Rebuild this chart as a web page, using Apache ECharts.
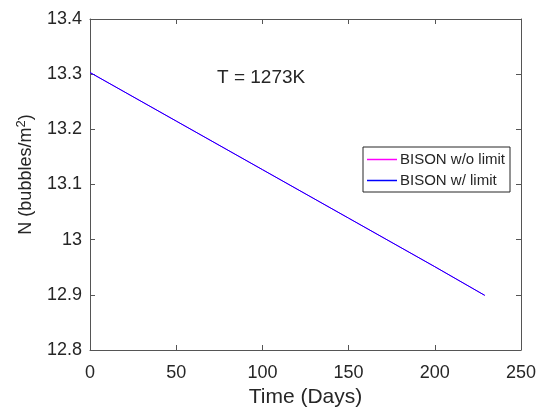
<!DOCTYPE html>
<html>
<head>
<meta charset="utf-8">
<script src="https://cdn.jsdelivr.net/npm/echarts@6/dist/echarts.min.js"></script>
<style>
  html, body { margin: 0; padding: 0; background: #fff; }
  #chart { width: 542px; height: 416px; }
</style>
</head>
<body>
<div id="chart"></div>
<script>
// Bubble number density over time at T = 1273K
const days = [0, 50, 100, 150, 200, 229];
const nWithoutLimit = [13.303, 13.215, 13.127, 13.039, 12.951, 12.899];
const nWithLimit = [13.303, 13.215, 13.127, 13.039, 12.951, 12.899];
const xTicks = [0, 50, 100, 150, 200, 250];
const yTicks = [12.8, 12.9, 13.0, 13.1, 13.2, 13.3, 13.4];
const seriesNames = ['BISON w/o limit', 'BISON w/ limit'];

const FONT = 'Liberation Sans, Arial, sans-serif';
const INK = '#262626';
const AXIS = '#555555';

const pairs = (xs, ys) => xs.map((x, i) => [x, ys[i]]);

const chart = echarts.init(document.getElementById('chart'), null, { renderer: 'canvas' });

const boxAxis = {
  axisLine: { show: true, onZero: false, lineStyle: { color: AXIS, width: 1 } },
  axisTick: { show: true, inside: true, length: 5, lineStyle: { color: AXIS } },
  splitLine: { show: false }
};

chart.setOption({
  animation: false,
  backgroundColor: '#ffffff',
  grid: { left: 90, top: 19, right: 21, bottom: 66, containLabel: false },
  xAxis: [
    Object.assign({
      type: 'value', position: 'bottom',
      min: xTicks[0], max: xTicks[xTicks.length - 1], interval: 50,
      name: 'Time (Days)', nameLocation: 'middle', nameGap: 37,
      nameTextStyle: { color: INK, fontFamily: FONT, fontSize: 21 },
      axisLabel: { color: INK, fontFamily: FONT, fontSize: 18, margin: 14 }
    }, boxAxis),
    Object.assign({
      type: 'value', position: 'top',
      min: xTicks[0], max: xTicks[xTicks.length - 1], interval: 50,
      axisLabel: { show: false }
    }, boxAxis)
  ],
  yAxis: [
    Object.assign({
      type: 'value', position: 'left',
      min: yTicks[0], max: yTicks[yTicks.length - 1], interval: 0.1,
      name: 'N (bubbles/m{sup|2})', nameLocation: 'middle', nameGap: 52,
      nameTextStyle: {
        color: INK, fontFamily: FONT, fontSize: 18,
        padding: [0, 0, 0, 20],
        rich: { sup: { fontSize: 13, fontFamily: FONT, color: INK, padding: [0, 0, 10, 0] } }
      },
      axisLabel: {
        color: INK, fontFamily: FONT, fontSize: 18, margin: 8,
        formatter: v => String(Math.round(v * 10) / 10)
      }
    }, boxAxis),
    Object.assign({
      type: 'value', position: 'right',
      min: yTicks[0], max: yTicks[yTicks.length - 1], interval: 0.1,
      axisLabel: { show: false }
    }, boxAxis)
  ],
  legend: {
    data: seriesNames,
    orient: 'vertical',
    left: 363, top: 147,
    padding: [5, 5, 4, 4],
    itemGap: 6,
    itemWidth: 30, itemHeight: 1.5,
    icon: 'rect',
    backgroundColor: '#ffffff',
    borderColor: '#262626', borderWidth: 1, borderRadius: 0,
    textStyle: { color: INK, fontFamily: FONT, fontSize: 15, padding: [0, 0, 0, -2] }
  },
  graphic: [{
    type: 'text', left: 217, top: 68,
    style: { text: 'T = 1273K', fill: INK, font: '19px ' + FONT }
  }],
  series: [
    {
      name: seriesNames[0], type: 'line', xAxisIndex: 0, yAxisIndex: 0,
      data: pairs(days, nWithoutLimit), showSymbol: false, symbol: 'none',
      lineStyle: { color: '#ff00ff', width: 1 }, itemStyle: { color: '#ff00ff' }
    },
    {
      name: seriesNames[1], type: 'line', xAxisIndex: 0, yAxisIndex: 0,
      data: pairs(days, nWithLimit), showSymbol: false, symbol: 'none',
      lineStyle: { color: '#0000ff', width: 1 }, itemStyle: { color: '#0000ff' }
    }
  ]
});
</script>
</body>
</html>
